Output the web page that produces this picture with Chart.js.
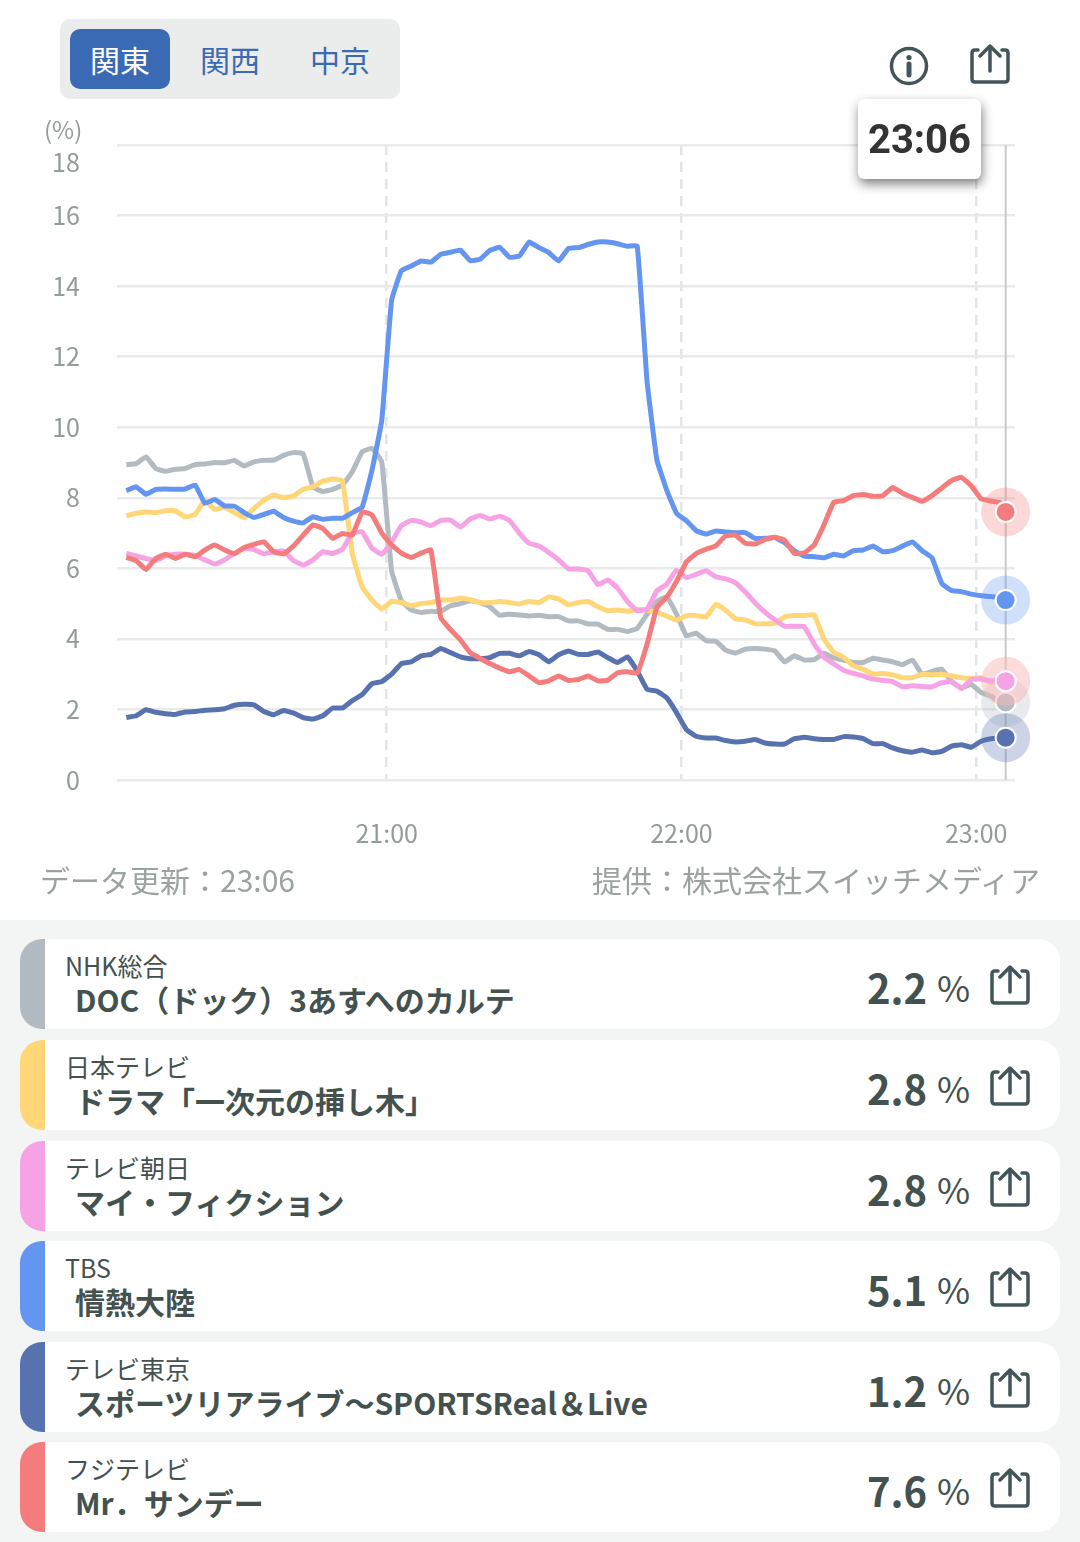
<!DOCTYPE html>
<html lang="ja">
<head>
<meta charset="utf-8">
<title>視聴率</title>
<script src="https://cdn.jsdelivr.net/npm/chart.js@4"></script>
<style>
  * { box-sizing: border-box; }
  html, body { margin: 0; padding: 0; background: #fff; }
  body { width: 1080px; height: 1542px; position: relative; overflow: hidden; font-family: "Noto Sans CJK JP", sans-serif; color: #44524f; }
  .abs { position: absolute; white-space: nowrap; }
  #tabs { left: 60px; top: 19px; width: 340px; height: 80px; background: #ebeded; border-radius: 10px; }
  .tab { position: absolute; top: 10px; width: 100px; height: 60px; line-height: 60px; text-align: center; font-size: 30px; color: #3b6ab5; border-radius: 10px; }
  .tab.on { background: #3b6ab5; color: #fff; }
  #chartBox { left: 0; top: 110px; width: 1080px; height: 750px; }
  #tip { left: 858px; top: 99px; width: 123px; height: 80px; text-align: center; background: #fff; border-radius: 6px; box-shadow: 1px 5px 11px rgba(0,0,0,.5); font: bold 40px/81px Roboto, sans-serif; color: #333; }
  .axisText { color: #929c9b; font-size: 24px; line-height: 30px; }
  .foot { top: 859px; font-size: 30px; line-height: 40px; color: #9aa3a2; }
  #list { left: 0; top: 920px; width: 1080px; height: 622px; background: #f3f5f4; }
  .card { position: absolute; left: 20px; width: 1040px; height: 90px; background: #fff; border-radius: 22px; overflow: hidden; }
  .bar { position: absolute; left: 0; top: 0; width: 25px; height: 100%; }
  .net { position: absolute; left: 45px; top: 8px; font-size: 25px; line-height: 36px; white-space: nowrap; }
  .prog { position: absolute; left: 55px; top: 39px; font-size: 30px; line-height: 42px; font-weight: 700; white-space: nowrap; }
  .val { position: absolute; left: 847px; top: 20px; font-size: 40px; line-height: 56px; font-weight: 700; white-space: nowrap; }
  .pct { position: absolute; left: 917px; top: 22px; font-size: 36px; line-height: 50px; white-space: nowrap; }
  svg.share { position: absolute; width: 40px; height: 40px; fill: none; stroke: #42555a; stroke-width: 3.5; stroke-linecap: round; stroke-linejoin: round; }
</style>
</head>
<body>
<div id="tabs" class="abs"></div>
<svg class="share" style="left:970px;top:44px" viewBox="0 0 40 40"><path d="M8 6H5Q2 6 2 9V35Q2 38 5 38H35Q38 38 38 35V9Q38 6 35 6H32M20 27V3M10 12L20 2L30 12"/></svg>
<svg class="abs" style="left:888px;top:45px;width:42px;height:42px" viewBox="0 0 42 42"><circle cx="21" cy="21" r="17.5" fill="none" stroke="#42555a" stroke-width="3.5"/><circle cx="21" cy="12.5" r="2.6" fill="#42555a"/><path d="M21 19V30" stroke="#42555a" stroke-width="5" stroke-linecap="round"/></svg>
<div id="chartBox" class="abs"><canvas id="myChart" width="1080" height="750"></canvas></div>
<div class="abs axisText" style="left:44px;top:114px">(%)</div>
<div class="abs axisText" style="left:52px;top:146px;font-size:25px">18</div>
<div id="tip" class="abs">23:06</div>
<div class="abs foot" style="left:40px">データ更新：23:06</div>
<div class="abs foot" style="right:40px">提供：株式会社スイッチメディア</div>
<div id="list" class="abs"></div>

<script>
// 分 (20:00 からの経過)
const minutes = [
  7,9,11,13,15,17,19,21,23,25,
  27,29,31,33,35,37,39,41,43,45,
  47,49,51,53,55,57,59,61,63,65,
  67,69,71,73,75,77,79,81,83,85,
  87,89,91,93,95,97,99,101,103,105,
  107,109,111,113,115,117,119,121,123,125,
  127,129,131,133,135,137,139,141,143,145,
  147,149,151,153,155,157,159,161,163,165,
  167,169,171,173,175,177,179,181,183,185,
  186
];
const xTicks = [60, 120, 180];

const nhk = [
  8.94,8.97,9.16,8.83,8.75,8.81,8.83,8.94,8.96,9.0,
  8.99,9.06,8.9,9.02,9.06,9.07,9.2,9.28,9.25,8.3,
  8.18,8.24,8.36,8.74,9.3,9.4,9.02,5.93,5.08,4.82,
  4.75,4.78,4.78,4.94,5.0,5.08,5.03,4.91,4.67,4.7,
  4.68,4.65,4.67,4.63,4.63,4.51,4.51,4.42,4.42,4.27,
  4.27,4.21,4.3,4.7,5.06,5.19,4.7,4.09,4.16,3.95,
  3.93,3.68,3.6,3.71,3.73,3.71,3.66,3.35,3.52,3.4,
  3.41,3.59,3.46,3.4,3.33,3.33,3.45,3.4,3.35,3.27,
  3.4,3.0,3.08,3.14,2.79,2.62,2.71,2.48,2.38,2.2,
  2.2
];
const ntv = [
  7.49,7.56,7.6,7.58,7.63,7.63,7.46,7.53,7.93,7.67,
  7.73,7.58,7.44,7.7,7.93,8.08,8.0,8.05,8.24,8.31,
  8.47,8.53,8.48,6.42,5.48,5.1,4.85,5.06,5.03,4.94,
  5.0,5.03,5.1,5.1,5.16,5.11,5.03,5.03,5.06,5.03,
  4.99,5.06,5.03,5.19,5.13,4.97,5.03,5.06,4.91,4.8,
  4.82,4.78,4.84,4.82,4.75,4.65,4.53,4.66,4.66,4.62,
  4.98,4.81,4.57,4.54,4.43,4.43,4.45,4.62,4.66,4.66,
  4.69,4.0,3.62,3.48,3.24,3.14,3.0,3.02,2.98,2.9,
  2.9,3.0,2.98,3.0,2.95,2.9,2.88,2.9,2.76,2.8,
  2.8
];
const asahi = [
  6.42,6.35,6.28,6.22,6.35,6.4,6.4,6.36,6.24,6.12,
  6.24,6.42,6.57,6.53,6.41,6.47,6.49,6.22,6.09,6.24,
  6.47,6.42,6.54,6.99,7.04,6.57,6.4,6.75,7.21,7.36,
  7.31,7.21,7.36,7.37,7.17,7.4,7.5,7.4,7.48,7.36,
  7.0,6.71,6.63,6.45,6.24,5.99,5.98,5.93,5.54,5.67,
  5.44,5.06,4.8,4.84,5.36,5.55,5.95,5.74,5.83,5.93,
  5.76,5.7,5.59,5.33,5.02,4.76,4.54,4.36,4.36,4.35,
  3.86,3.48,3.29,3.11,3.02,2.95,2.86,2.83,2.79,2.64,
  2.67,2.65,2.64,2.76,2.79,2.59,2.85,2.86,2.81,2.83,
  2.8
];
const tbs = [
  8.2,8.31,8.1,8.24,8.25,8.24,8.25,8.36,7.84,7.95,
  7.77,7.76,7.58,7.44,7.53,7.62,7.44,7.34,7.29,7.46,
  7.39,7.42,7.42,7.58,7.73,8.78,10.2,13.6,14.44,14.57,
  14.71,14.68,14.9,14.96,15.02,14.72,14.76,15.01,15.1,14.82,
  14.85,15.25,15.09,14.95,14.71,15.07,15.09,15.18,15.25,15.25,
  15.2,15.13,15.13,11.3,9.07,8.22,7.56,7.35,7.07,6.97,
  7.06,7.03,7.01,7.01,6.85,6.85,6.87,6.73,6.5,6.35,
  6.33,6.3,6.4,6.35,6.5,6.52,6.63,6.47,6.5,6.63,
  6.75,6.5,6.3,5.57,5.37,5.34,5.27,5.22,5.2,5.18,
  5.1
];
const tokyo = [
  1.77,1.82,1.99,1.92,1.88,1.86,1.93,1.94,1.98,1.99,
  2.02,2.12,2.15,2.13,1.94,1.85,1.97,1.9,1.77,1.73,
  1.82,2.04,2.04,2.25,2.42,2.73,2.79,3.0,3.3,3.35,
  3.52,3.56,3.73,3.61,3.49,3.44,3.44,3.47,3.59,3.59,
  3.52,3.64,3.55,3.35,3.55,3.66,3.56,3.56,3.63,3.47,
  3.33,3.49,3.09,2.57,2.52,2.33,1.91,1.43,1.24,1.19,
  1.19,1.12,1.08,1.1,1.15,1.05,1.02,1.02,1.17,1.21,
  1.17,1.15,1.15,1.23,1.22,1.17,1.03,1.03,0.91,0.83,
  0.79,0.85,0.77,0.81,0.96,1.0,0.93,1.1,1.17,1.19,
  1.2
];
const fuji = [
  6.31,6.22,5.97,6.28,6.4,6.28,6.4,6.33,6.52,6.66,
  6.52,6.42,6.59,6.68,6.75,6.47,6.41,6.63,6.94,7.23,
  7.13,6.85,6.99,6.94,7.6,7.51,7.0,6.66,6.43,6.31,
  6.43,6.52,4.6,4.26,3.97,3.61,3.45,3.3,3.17,3.07,
  3.13,2.95,2.76,2.81,2.95,2.82,2.85,2.95,2.81,2.83,
  3.04,3.07,3.03,3.85,4.89,5.18,5.63,6.18,6.42,6.54,
  6.64,6.92,6.94,6.71,6.69,6.82,6.88,6.8,6.42,6.44,
  6.66,7.23,7.87,7.92,8.06,8.09,8.04,8.06,8.29,8.13,
  8.01,7.9,8.06,8.28,8.49,8.58,8.34,7.97,7.91,7.85,
  7.6
];

const stations = ['NHK総合', '日本テレビ', 'テレビ朝日', 'TBS', 'テレビ東京', 'フジテレビ'];
const programs = ['DOC（ドック）3あすへのカルテ', 'ドラマ「一次元の挿し木」', 'マイ・フィクション', '情熱大陸', 'スポーツリアライブ～SPORTSReal＆Live', 'Mr．サンデー'];
const ratings = ['2.2', '2.8', '2.8', '5.1', '1.2', '7.6'];
const colors = ['#b2bac2', '#ffd778', '#f6a3e6', '#6495f0', '#5872b0', '#f47c7c'];
const haloColors = ['rgba(178,186,194,.3)', 'rgba(255,215,120,.3)', 'rgba(246,163,230,.3)', 'rgba(100,149,240,.3)', 'rgba(88,114,176,.3)', 'rgba(244,124,124,.3)'];
const seriesList = [nhk, ntv, asahi, tbs, tokyo, fuji];
const tabNames = ['関東', '関西', '中京'];
const cardTops = [19, 120, 221, 321, 422, 522];

// タブ
const tabs = document.getElementById('tabs');
tabNames.forEach((name, i) => {
  const t = document.createElement('div');
  t.className = i === 0 ? 'tab on' : 'tab';
  t.style.left = (10 + i * 110) + 'px';
  t.textContent = name;
  tabs.appendChild(t);
});

// 局リスト
const list = document.getElementById('list');
stations.forEach((name, i) => {
  const c = document.createElement('div');
  c.className = 'card';
  c.style.top = cardTops[i] + 'px';
  c.innerHTML = `<div class="bar" style="background:${colors[i]}"></div>
    <div class="net">${name}</div>
    <div class="prog">${programs[i]}</div>
    <div class="val">${ratings[i]}</div>
    <div class="pct">%</div>
    <svg class="share" style="left:970px;top:26px" viewBox="0 0 40 40"><path d="M8 6H5Q2 6 2 9V35Q2 38 5 38H35Q38 38 38 35V9Q38 6 35 6H32M20 27V3M10 12L20 2L30 12"/></svg>`;
  list.appendChild(c);
});

// グラフ
const lastIndex = minutes.length - 1;
const lastMinute = minutes[lastIndex];
const datasets = [];

seriesList.forEach((values, i) => {
  const order = 20 - i * 2;
  datasets.push({
    data: values.map((v, n) => ({ x: minutes[n], y: v })),
    borderColor: colors[i],
    borderWidth: 5,
    tension: 0.1,
    clip: false,
    order: order,
    pointRadius: ctx => ctx.dataIndex === lastIndex ? 10 : 0,
    pointBackgroundColor: colors[i],
    pointBorderColor: '#fff',
    pointBorderWidth: 2
  });
  // 最後の点の周りの丸
  datasets.push({
    data: [{ x: lastMinute, y: values[lastIndex] }],
    showLine: false,
    clip: false,
    order: order + 1,
    pointRadius: 24.5,
    pointBackgroundColor: haloColors[i],
    pointBorderWidth: 0
  });
});

// 現在時刻の縦線
datasets.push({
  data: [{ x: lastMinute, y: 0 }, { x: lastMinute, y: 18 }],
  borderColor: '#c9c9c9',
  borderWidth: 2,
  pointRadius: 0,
  order: 40
});

new Chart(document.getElementById('myChart').getContext('2d'), {
  type: 'line',
  data: { datasets: datasets },
  options: {
    responsive: false,
    animation: false,
    layout: { padding: { top: 35, right: 65, left: 0, bottom: 0 } },
    plugins: { legend: { display: false }, tooltip: { enabled: false } },
    scales: {
      x: {
        type: 'linear',
        min: 5.1,
        max: 187.9,
        afterBuildTicks: scale => { scale.ticks = xTicks.map(v => ({ value: v })); },
        afterFit: scale => { scale.height = 80; },
        border: { display: false, dash: [10, 7] },
        grid: { color: '#e3e6e6', lineWidth: 2.5, drawTicks: false },
        ticks: {
          padding: 38,
          maxRotation: 0,
          autoSkip: false,
          color: '#929c9b',
          font: { family: '"Noto Sans CJK JP"', size: 25 },
          callback: v => Math.floor(v / 60) + 20 + ':00'
        }
      },
      y: {
        min: 0,
        max: 18,
        // ラベルの余白で上端がずれるので消す
        afterFit: scale => { scale.width = 117; scale.paddingTop = 0; scale.paddingBottom = 0; },
        border: { display: false },
        grid: { color: '#e9eaea', lineWidth: 2.5, drawTicks: false },
        ticks: {
          stepSize: 2,
          padding: 37,
          color: '#929c9b',
          font: { family: '"Noto Sans CJK JP"', size: 25 },
          callback: v => v === 18 ? '' : String(v)
        }
      }
    }
  }
});
</script>
</body>
</html>
